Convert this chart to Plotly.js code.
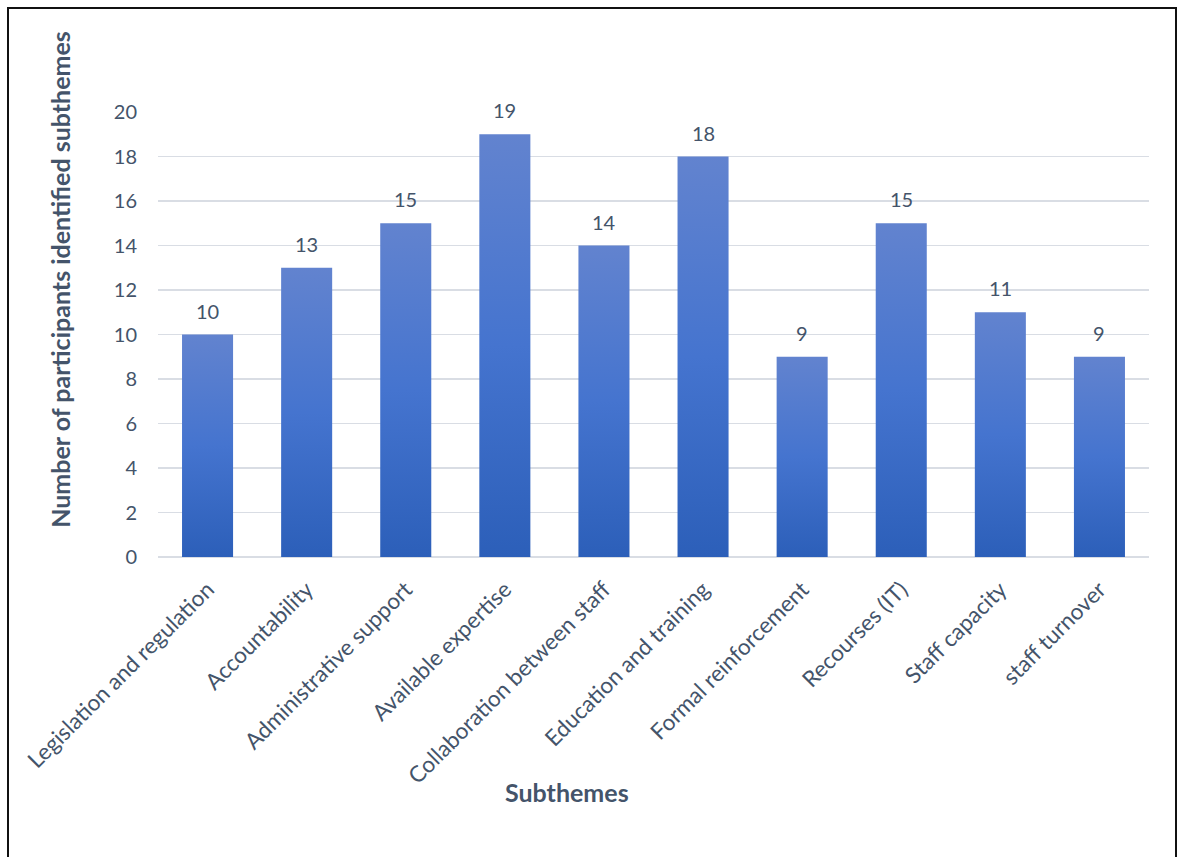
<!DOCTYPE html>
<html>
<head>
<meta charset="utf-8">
<script src="https://cdn.plot.ly/plotly-3.0.1.min.js"></script>
<style>
  html, body { margin: 0; padding: 0; background: #fff; }
  #wrap { position: relative; width: 1178px; height: 857px; overflow: hidden; }
  #chart { width: 1178px; height: 857px; }
  #frame {
    position: absolute; left: 7px; top: 7px; width: 1166px; height: 900px;
    border: 2px solid #111; border-bottom: none; pointer-events: none;
  }
</style>
</head>
<body>
<div id="wrap">
  <div id="chart"></div>
  <div id="frame"></div>
</div>
<script>
// Subthemes and how many participants raised each one
const subthemes = [
  'Legislation and regulation',
  'Accountability',
  'Administrative support',
  'Available expertise',
  'Collaboration between staff',
  'Education and training',
  'Formal reinforcement',
  'Recourses (IT)',
  'Staff capacity',
  'staff turnover'
];
const participants = [10, 13, 15, 19, 14, 18, 9, 15, 11, 9];
const yTicks = [0, 2, 4, 6, 8, 10, 12, 14, 16, 18, 20];

const textColor = '#44546A';
const gridColor = '#D9DDE4';
const fontFamily = 'Lato, "Open Sans", sans-serif';

const trace = {
  type: 'bar',
  x: subthemes,
  y: participants,
  marker: { color: '#4472C4', line: { width: 0 } },
  hoverinfo: 'x+y'
};

// value labels floating above each bar
const valueLabels = subthemes.map((s, i) => ({
  x: s, y: participants[i], xref: 'x', yref: 'y',
  text: String(participants[i]), showarrow: false,
  yanchor: 'bottom', yshift: 10,
  font: { family: fontFamily, size: 20, color: textColor }
}));

const layout = {
  width: 1178, height: 857,
  margin: { l: 158, r: 29, t: 112, b: 300 },
  paper_bgcolor: '#ffffff',
  plot_bgcolor: '#ffffff',
  bargap: 0.485,
  showlegend: false,
  font: { family: fontFamily, color: textColor },
  xaxis: {
    type: 'category',
    tickangle: -45,
    tickfont: { family: fontFamily, size: 22.5, color: textColor },
    ticks: '',
    ticklabelstandoff: 14,
    showline: false,
    showgrid: false,
    zeroline: false
  },
  yaxis: {
    range: [0, 20],
    tickvals: yTicks,
    tickfont: { family: fontFamily, size: 20, color: textColor },
    ticks: '',
    ticklabelstandoff: 20,
    showgrid: true,
    gridcolor: gridColor,
    gridwidth: 1.5,
    zeroline: true,
    zerolinecolor: gridColor,
    zerolinewidth: 1.5,
    showline: false,
    fixedrange: true
  },
  annotations: valueLabels.concat([
    {
      text: '<b>Number of participants identified subthemes</b>',
      xref: 'paper', yref: 'paper', x: -0.099, y: 0.625,
      textangle: -90, showarrow: false,
      xanchor: 'center', yanchor: 'middle',
      font: { family: fontFamily, size: 25, color: textColor }
    },
    {
      text: '<b>Subthemes</b>',
      xref: 'paper', yref: 'paper', x: 0.413, y: -0.528,
      showarrow: false, xanchor: 'center', yanchor: 'middle',
      font: { family: fontFamily, size: 25, color: textColor }
    }
  ])
};

// vertical shading on the bars: lighter at the top, deeper at the bottom
function shadeBars(gd) {
  const svg = gd.querySelector('svg.main-svg');
  if (!svg) return;
  const ns = 'http://www.w3.org/2000/svg';
  let defs = svg.querySelector('defs');
  if (!defs) { defs = document.createElementNS(ns, 'defs'); svg.insertBefore(defs, svg.firstChild); }
  if (!svg.querySelector('#barShade')) {
    const g = document.createElementNS(ns, 'linearGradient');
    g.setAttribute('id', 'barShade');
    g.setAttribute('x1', '0'); g.setAttribute('y1', '0');
    g.setAttribute('x2', '0'); g.setAttribute('y2', '1');
    [['0', '#6283CF'], ['0.5', '#4574CF'], ['1', '#2C5FB9']].forEach(([o, c]) => {
      const st = document.createElementNS(ns, 'stop');
      st.setAttribute('offset', o); st.setAttribute('stop-color', c);
      g.appendChild(st);
    });
    defs.appendChild(g);
  }
  gd.querySelectorAll('.barlayer .point path').forEach(p => {
    p.style.fill = 'url(#barShade)';
  });
}

Plotly.newPlot('chart', [trace], layout, { displayModeBar: false, staticPlot: true })
  .then(gd => shadeBars(gd));
</script>
</body>
</html>
